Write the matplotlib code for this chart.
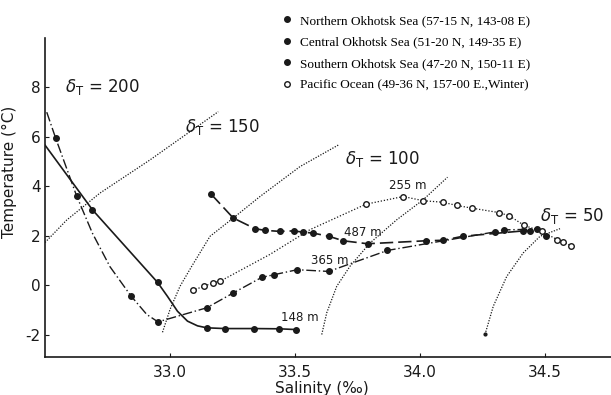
import matplotlib
matplotlib.use('Agg')
import matplotlib.pyplot as plt
from matplotlib.lines import Line2D

plt.rcParams['axes.unicode_minus'] = False

# T-S curves (salinity in permil, temperature in deg C)
# *_line: path of the drawn curve, *_s / *_t: observed points
north_line_s = [32.50, 32.69, 32.95, 32.99, 33.03, 33.07, 33.11, 33.147, 33.22, 33.336, 33.437, 33.504]
north_line_t = [5.67, 3.05, 0.12, -0.45, -1.05, -1.45, -1.64, -1.72, -1.75, -1.75, -1.76, -1.79]
north_s = [32.69, 32.95, 33.147, 33.22, 33.336, 33.437, 33.504]
north_t = [3.05, 0.12, -1.72, -1.75, -1.75, -1.76, -1.79]

central_line_s = [32.507, 32.543, 32.627, 32.69, 32.76, 32.843, 32.907, 32.952, 33.147, 33.253,
                  33.367, 33.417, 33.509, 33.635, 33.87, 34.30, 34.336, 34.467, 34.503]
central_line_t = [7.0, 5.94, 3.6, 2.1, 0.75, -0.42, -1.18, -1.48, -0.91, -0.31,
                  0.32, 0.43, 0.63, 0.56, 1.41, 2.16, 2.24, 2.27, 2.0]
central_s = [32.543, 32.627, 32.843, 32.952, 33.147, 33.253, 33.367, 33.417, 33.509,
             33.635, 33.87, 34.30, 34.336, 34.467, 34.503]
central_t = [5.94, 3.6, -0.42, -1.48, -0.91, -0.31, 0.32, 0.43, 0.63,
             0.56, 1.41, 2.16, 2.24, 2.27, 2.0]

south_s = [33.164, 33.253, 33.34, 33.38, 33.44, 33.496, 33.53, 33.573, 33.636, 33.693,
           33.79, 34.024, 34.093, 34.17, 34.413, 34.44]
south_t = [3.69, 2.72, 2.29, 2.22, 2.18, 2.2, 2.15, 2.11, 1.98, 1.80,
           1.68, 1.80, 1.82, 1.98, 2.2, 2.2]

pacific_line_s = [33.09, 33.137, 33.17, 33.20, 33.40, 33.56, 33.784, 33.933, 34.013, 34.09, 34.147,
                  34.207, 34.316, 34.357, 34.417, 34.487, 34.55, 34.573, 34.604]
pacific_line_t = [-0.2, -0.04, 0.1, 0.16, 1.25, 2.25, 3.28, 3.59, 3.42, 3.36, 3.23,
                  3.12, 2.94, 2.81, 2.42, 2.18, 1.84, 1.75, 1.60]
pacific_s = [33.09, 33.137, 33.17, 33.20, 33.784, 33.933, 34.013, 34.09, 34.147,
             34.207, 34.316, 34.357, 34.417, 34.487, 34.55, 34.573, 34.604]
pacific_t = [-0.2, -0.04, 0.1, 0.16, 3.28, 3.59, 3.42, 3.36, 3.23,
             3.12, 2.94, 2.81, 2.42, 2.18, 1.84, 1.75, 1.60]

# sigma-t isopleths
sig200_s = [32.50, 32.587, 32.72, 32.92, 33.193]
sig200_t = [1.73, 2.64, 3.73, 5.07, 7.02]
sig150_s = [32.97, 33.0, 33.04, 33.087, 33.16, 33.253, 33.36, 33.52, 33.673]
sig150_t = [-1.90, -0.98, -0.04, 0.77, 1.98, 2.72, 3.59, 4.80, 5.67]
sig100_s = [33.607, 33.627, 33.667, 33.72, 33.80, 33.907, 34.013, 34.11]
sig100_t = [-1.99, -1.11, -0.04, 0.77, 1.71, 2.65, 3.46, 4.37]
sig50_s = [34.26, 34.293, 34.347, 34.413, 34.48, 34.56]
sig50_t = [-1.99, -0.85, 0.36, 1.31, 1.98, 2.29]

sig_labels = ['200', '150', '100', '50']
sig_label_pos = [(32.73, 8.0), (33.21, 6.4), (33.85, 5.1), (34.61, 2.8)]

depth_labels = ['148 m', '365 m', '487 m', '255 m']
depth_pos = [(33.52, -1.3), (33.64, 1.0), (33.77, 2.15), (33.95, 4.05)]

legend_names = ['Northern Okhotsk Sea (57-15 N, 143-08 E)',
                'Central Okhotsk Sea (51-20 N, 149-35 E)',
                'Southern Okhotsk Sea (47-20 N, 150-11 E)',
                'Pacific Ocean (49-36 N, 157-00 E.,Winter)']

ink = '#1a1a1a'
fig = plt.figure(figsize=(6.11, 3.95), dpi=100)
ax = fig.add_axes([45 / 611, 1 - 357 / 395, 566 / 611, 319 / 395])

# isopleths
for s, t in [(sig200_s, sig200_t), (sig150_s, sig150_t), (sig100_s, sig100_t), (sig50_s, sig50_t)]:
    ax.plot(s, t, color=ink, lw=0.9, dashes=(1, 1.2))
ax.plot(sig50_s[0], sig50_t[0], 'o', color=ink, ms=2)

# water mass curves
ax.plot(north_line_s, north_line_t, color=ink, lw=1.2)
ax.plot(north_s, north_t, 'o', color=ink, ms=4)

ax.plot(central_line_s, central_line_t, color=ink, lw=1.0, dashes=(7, 2, 1, 2))
ax.plot(central_s, central_t, 'o', color=ink, ms=4)

ax.plot(south_s, south_t, color=ink, lw=1.2, dashes=(8, 3))
ax.plot(south_s, south_t, 'o', color=ink, ms=4)

ax.plot(pacific_line_s, pacific_line_t, color=ink, lw=0.9, dashes=(1, 1.5))
ax.plot(pacific_s, pacific_t, 'o', mfc='white', mec=ink, mew=1.0, ms=4)

for lab, (x, y) in zip(sig_labels, sig_label_pos):
    ax.text(x, y, r'$\delta_{\rm T}$ = ' + lab, fontsize=12, color=ink, ha='center', va='center')
for lab, (x, y) in zip(depth_labels, depth_pos):
    ax.text(x, y, lab, fontsize=8.5, color=ink, ha='center', va='center')

ax.set_xlim(32.5, 34.764)
ax.set_ylim(-2.9, 10.0)
ax.set_xticks([33.0, 33.5, 34.0, 34.5])
ax.set_xticklabels(['33.0', '33.5', '34.0', '34.5'])
ax.set_yticks([-2, 0, 2, 4, 6, 8])
ax.tick_params(direction='in', length=3, labelsize=11, colors=ink, pad=3)
ax.tick_params(axis='x', pad=6)
for side in ['top', 'right']:
    ax.spines[side].set_visible(False)
for side in ['left', 'bottom']:
    ax.spines[side].set_color(ink)
    ax.spines[side].set_linewidth(1.2)
ax.set_xlabel('Salinity (‰)', fontsize=11, color=ink)
ax.set_ylabel('Temperature (°C)', fontsize=11, color=ink)
ax.xaxis.set_label_coords(0.49, -0.075)
ax.yaxis.set_label_coords(-0.05, 0.58)

handles = [Line2D([], [], ls='none', marker='o', color=ink, ms=4),
           Line2D([], [], ls='none', marker='o', color=ink, ms=4),
           Line2D([], [], ls='none', marker='o', color=ink, ms=4),
           Line2D([], [], ls='none', marker='o', mfc='white', mec=ink, ms=4)]
fig.legend(handles, legend_names, loc='upper left', bbox_to_anchor=(270 / 611, 1 - 3 / 395),
           frameon=False, handlelength=0.8, handletextpad=0.6, labelspacing=0.7,
           prop={'family': 'Liberation Serif', 'size': 9.5})

fig.savefig('out.png', dpi=100, facecolor='white')
